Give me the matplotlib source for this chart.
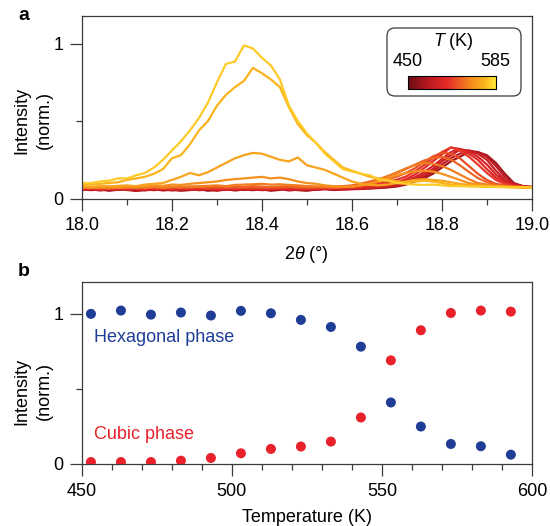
import numpy as np
import matplotlib.pyplot as plt
from matplotlib.colors import LinearSegmentedColormap
from matplotlib.patches import FancyBboxPatch
from matplotlib.ticker import MultipleLocator, FixedLocator

plt.rcParams['font.family'] = ['Liberation Sans', 'DejaVu Sans']
plt.rcParams['mathtext.fontset'] = 'custom'
plt.rcParams['mathtext.rm'] = 'Liberation Sans'
plt.rcParams['mathtext.it'] = 'Liberation Sans:italic'
plt.rcParams['font.size'] = 13

# ---- panel a: diffraction curves, 2theta grid 18.00 .. 19.00 step 0.02
two_theta = np.round(np.arange(18.0, 19.0001, 0.02), 2)
temps_a = [453, 463, 473, 483, 493, 503, 513, 523, 533, 543, 553, 563, 573]

I453 = [0.058, 0.054, 0.060, 0.050, 0.057, 0.062, 0.049, 0.056, 0.061, 0.052,
        0.057, 0.050, 0.055, 0.062, 0.050, 0.057, 0.060, 0.052, 0.058, 0.054,
        0.060, 0.050, 0.056, 0.062, 0.054, 0.050, 0.058, 0.060, 0.055, 0.058,
        0.060, 0.062, 0.065, 0.068, 0.072, 0.078, 0.090, 0.110, 0.130, 0.160,
        0.200, 0.240, 0.270, 0.300, 0.300, 0.280, 0.230, 0.160, 0.100, 0.080, 0.070]
I463 = [0.055, 0.060, 0.052, 0.058, 0.063, 0.055, 0.050, 0.058, 0.054, 0.060,
        0.052, 0.058, 0.062, 0.054, 0.057, 0.050, 0.058, 0.063, 0.055, 0.060,
        0.054, 0.058, 0.062, 0.052, 0.057, 0.060, 0.055, 0.062, 0.058, 0.060,
        0.062, 0.064, 0.066, 0.070, 0.075, 0.082, 0.095, 0.115, 0.140, 0.175,
        0.220, 0.260, 0.290, 0.310, 0.300, 0.270, 0.210, 0.140, 0.095, 0.080, 0.075]
I473 = [0.062, 0.056, 0.060, 0.064, 0.055, 0.060, 0.058, 0.052, 0.060, 0.064,
        0.058, 0.062, 0.055, 0.060, 0.064, 0.058, 0.055, 0.062, 0.060, 0.057,
        0.062, 0.058, 0.064, 0.060, 0.056, 0.062, 0.060, 0.064, 0.060, 0.063,
        0.064, 0.066, 0.070, 0.074, 0.080, 0.088, 0.102, 0.125, 0.155, 0.190,
        0.240, 0.280, 0.315, 0.310, 0.290, 0.250, 0.180, 0.120, 0.090, 0.080, 0.075]
I483 = [0.060, 0.064, 0.058, 0.062, 0.066, 0.060, 0.064, 0.058, 0.062, 0.060,
        0.065, 0.060, 0.063, 0.058, 0.064, 0.062, 0.066, 0.060, 0.063, 0.062,
        0.058, 0.064, 0.060, 0.066, 0.062, 0.060, 0.065, 0.062, 0.064, 0.066,
        0.066, 0.068, 0.072, 0.078, 0.085, 0.095, 0.112, 0.138, 0.170, 0.210,
        0.255, 0.300, 0.320, 0.305, 0.270, 0.220, 0.155, 0.110, 0.085, 0.078, 0.072]
I493 = [0.063, 0.060, 0.066, 0.062, 0.058, 0.065, 0.062, 0.067, 0.060, 0.064,
        0.061, 0.066, 0.063, 0.060, 0.066, 0.064, 0.060, 0.065, 0.063, 0.067,
        0.063, 0.060, 0.066, 0.064, 0.067, 0.063, 0.066, 0.064, 0.067, 0.068,
        0.068, 0.072, 0.078, 0.085, 0.094, 0.105, 0.125, 0.155, 0.195, 0.240,
        0.285, 0.330, 0.320, 0.290, 0.250, 0.190, 0.135, 0.100, 0.085, 0.078, 0.072]
I503 = [0.064, 0.068, 0.062, 0.066, 0.070, 0.064, 0.067, 0.063, 0.068, 0.065,
        0.062, 0.067, 0.065, 0.069, 0.064, 0.066, 0.070, 0.064, 0.067, 0.066,
        0.069, 0.064, 0.067, 0.070, 0.066, 0.068, 0.065, 0.069, 0.068, 0.070,
        0.072, 0.078, 0.086, 0.095, 0.108, 0.122, 0.142, 0.175, 0.215, 0.260,
        0.300, 0.330, 0.310, 0.270, 0.220, 0.165, 0.120, 0.095, 0.080, 0.075, 0.070]
I513 = [0.066, 0.070, 0.064, 0.068, 0.072, 0.066, 0.070, 0.067, 0.071, 0.068,
        0.072, 0.067, 0.070, 0.074, 0.069, 0.072, 0.068, 0.073, 0.070, 0.072,
        0.068, 0.073, 0.070, 0.074, 0.071, 0.068, 0.072, 0.074, 0.072, 0.074,
        0.078, 0.086, 0.096, 0.108, 0.124, 0.142, 0.165, 0.195, 0.235, 0.272,
        0.295, 0.290, 0.260, 0.210, 0.160, 0.120, 0.095, 0.085, 0.078, 0.074, 0.070]
I523 = [0.068, 0.072, 0.070, 0.074, 0.069, 0.073, 0.076, 0.071, 0.075, 0.072,
        0.076, 0.073, 0.078, 0.074, 0.077, 0.080, 0.075, 0.078, 0.076, 0.080,
        0.077, 0.074, 0.078, 0.080, 0.076, 0.078, 0.075, 0.079, 0.078, 0.080,
        0.085, 0.096, 0.110, 0.125, 0.145, 0.165, 0.190, 0.218, 0.245, 0.262,
        0.268, 0.252, 0.215, 0.172, 0.132, 0.105, 0.090, 0.082, 0.078, 0.074, 0.070]
I533 = [0.070, 0.068, 0.072, 0.066, 0.070, 0.074, 0.068, 0.072, 0.075, 0.070,
        0.074, 0.078, 0.075, 0.080, 0.082, 0.085, 0.080, 0.088, 0.090, 0.092,
        0.095, 0.090, 0.092, 0.088, 0.085, 0.080, 0.078, 0.075, 0.072, 0.074,
        0.075, 0.085, 0.100, 0.120, 0.145, 0.170, 0.195, 0.215, 0.230, 0.225,
        0.210, 0.185, 0.155, 0.125, 0.100, 0.090, 0.082, 0.078, 0.075, 0.072, 0.070]
I543 = [0.075, 0.070, 0.074, 0.078, 0.072, 0.076, 0.080, 0.078, 0.085, 0.082,
        0.090, 0.088, 0.095, 0.100, 0.105, 0.110, 0.120, 0.125, 0.130, 0.135,
        0.140, 0.130, 0.135, 0.125, 0.110, 0.100, 0.095, 0.085, 0.080, 0.078,
        0.078, 0.085, 0.095, 0.110, 0.130, 0.150, 0.165, 0.175, 0.180, 0.175,
        0.160, 0.140, 0.120, 0.100, 0.090, 0.085, 0.080, 0.078, 0.075, 0.072, 0.070]
I553 = [0.080, 0.075, 0.080, 0.078, 0.082, 0.085, 0.080, 0.090, 0.095, 0.100,
        0.120, 0.140, 0.165, 0.150, 0.170, 0.200, 0.230, 0.260, 0.280, 0.295,
        0.290, 0.270, 0.250, 0.240, 0.265, 0.215, 0.200, 0.185, 0.160, 0.135,
        0.110, 0.095, 0.088, 0.085, 0.090, 0.100, 0.110, 0.120, 0.125, 0.120,
        0.115, 0.105, 0.095, 0.088, 0.082, 0.080, 0.078, 0.075, 0.074, 0.072, 0.070]
I563 = [0.090, 0.090, 0.095, 0.100, 0.105, 0.120, 0.130, 0.140, 0.160, 0.190,
        0.260, 0.280, 0.350, 0.440, 0.500, 0.600, 0.670, 0.720, 0.760, 0.845,
        0.810, 0.770, 0.720, 0.590, 0.480, 0.410, 0.360, 0.300, 0.250, 0.200,
        0.180, 0.160, 0.140, 0.130, 0.120, 0.110, 0.105, 0.110, 0.115, 0.110,
        0.100, 0.090, 0.085, 0.080, 0.078, 0.076, 0.075, 0.074, 0.072, 0.073, 0.070]
I573 = [0.100, 0.100, 0.110, 0.115, 0.130, 0.130, 0.150, 0.165, 0.200, 0.250,
        0.310, 0.370, 0.440, 0.520, 0.620, 0.750, 0.870, 0.885, 0.990, 0.970,
        0.910, 0.860, 0.770, 0.600, 0.500, 0.420, 0.360, 0.290, 0.240, 0.190,
        0.175, 0.160, 0.150, 0.120, 0.115, 0.100, 0.095, 0.090, 0.088, 0.090,
        0.085, 0.080, 0.080, 0.078, 0.080, 0.076, 0.075, 0.074, 0.072, 0.074, 0.070]
curves_a = [I453, I463, I473, I483, I493, I503, I513, I523, I533, I543, I553, I563, I573]

# ---- panel b: integrated intensities vs temperature
temps_b = [453, 463, 473, 483, 493, 503, 513, 523, 533, 543, 553, 563, 573, 583, 593]
hexagonal = [0.998, 1.020, 0.993, 1.007, 0.987, 1.018, 1.002, 0.958, 0.911, 0.780,
             0.409, 0.249, 0.133, 0.118, 0.062]
cubic = [0.013, 0.013, 0.013, 0.022, 0.040, 0.071, 0.100, 0.116, 0.149, 0.309,
         0.689, 0.889, 1.004, 1.020, 1.013]

cmap = LinearSegmentedColormap.from_list('heat', [
    (0.0, '#6a0d12'), (0.25, '#c01a22'), (0.45, '#e52b28'),
    (0.7, '#f4861f'), (0.88, '#fbb81c'), (1.0, '#ffe838')])
t_min, t_max = 450, 585

blue = '#1f3d96'
red = '#e8212b'
spine_col = '#3a3a3a'

fig = plt.figure(figsize=(5.5, 5.26), dpi=100)
ax_a = fig.add_axes([0.149, 0.6226, 0.818, 0.347])
ax_b = fig.add_axes([0.149, 0.1179, 0.818, 0.346])

for T, I in zip(temps_a, curves_a):
    frac = 0.15 + 0.85 * (T - t_min) / (t_max - t_min)
    ax_a.plot(two_theta, I, color=cmap(frac), lw=1.6, solid_joinstyle='round')

ax_a.set_xlim(18.0, 19.0)
ax_a.set_ylim(0, 1.18)
ax_a.xaxis.set_major_locator(FixedLocator([18.0, 18.2, 18.4, 18.6, 18.8, 19.0]))
ax_a.xaxis.set_minor_locator(MultipleLocator(0.1))
ax_a.set_xticklabels(['18.0', '18.2', '18.4', '18.6', '18.8', '19.0'])
ax_a.set_xlabel(r'2$\mathit{\theta}$ (°)', labelpad=7)

ax_b.scatter(temps_b, hexagonal, s=52, color=blue, edgecolors='none', zorder=3)
ax_b.scatter(temps_b, cubic, s=52, color=red, edgecolors='none', zorder=3)
ax_b.text(454, 0.84, 'Hexagonal phase', color=blue, va='center', ha='left')
ax_b.text(454, 0.198, 'Cubic phase', color=red, va='center', ha='left')
ax_b.set_xlim(450, 600)
ax_b.set_ylim(0, 1.21)
ax_b.xaxis.set_major_locator(MultipleLocator(50))
ax_b.xaxis.set_minor_locator(MultipleLocator(10))
ax_b.set_xlabel('Temperature (K)', labelpad=7)

for ax, ly in ((ax_a, 0.43), (ax_b, 0.40)):
    ax.yaxis.set_major_locator(FixedLocator([0, 1]))
    ax.yaxis.set_minor_locator(FixedLocator([0.5]))
    ax.set_yticklabels(['0', '1'])
    ax.set_ylabel('Intensity\n(norm.)', linespacing=1.45)
    ax.yaxis.set_label_coords(-0.064, ly)
    for s in ax.spines.values():
        s.set_color(spine_col)
        s.set_linewidth(0.9)
    ax.tick_params(which='major', length=8.5, width=0.9, color=spine_col, pad=5)
    ax.tick_params(which='minor', length=4.3, width=0.9, color=spine_col)

# panel letters
fig.text(18 / 550, 1 - 16 / 526, 'a', fontsize=14, fontweight='bold', va='center')
fig.text(18 / 550, 1 - 272 / 526, 'b', fontsize=14, fontweight='bold', va='center')

# temperature legend box with colour bar
box = FancyBboxPatch((387 / 550, 1 - 96 / 526), 134 / 550, 68 / 526,
                     boxstyle='round,pad=0,rounding_size=0.0145', mutation_aspect=1.046,
                     transform=fig.transFigure, facecolor='white', edgecolor=spine_col,
                     lw=0.9, zorder=5)
fig.patches.append(box)
fig.text(453 / 550, 1 - 41 / 526, r'$\mathit{T}$ (K)', ha='center', va='center', zorder=6)
fig.text(408 / 550, 1 - 62 / 526, '450', ha='center', va='center', zorder=6)
fig.text(495 / 550, 1 - 62 / 526, '585', ha='center', va='center', zorder=6)
cax = fig.add_axes([408 / 550, 1 - 89 / 526, 88 / 550, 13 / 526], zorder=7)
cax.imshow(np.linspace(0, 1, 256)[None, :], aspect='auto', cmap=cmap)
cax.set_xticks([])
cax.set_yticks([])
for s in cax.spines.values():
    s.set_linewidth(0.8)

fig.savefig('out.png', dpi=100)
